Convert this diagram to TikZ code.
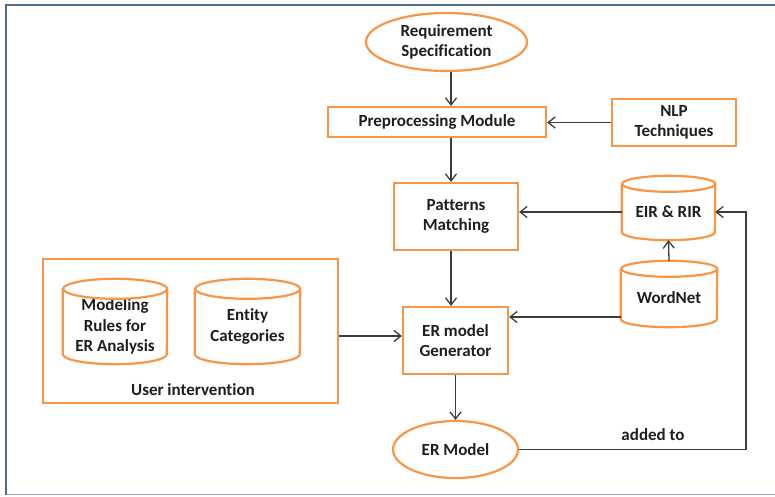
\documentclass[tikz,border=0pt]{standalone}
\usepackage{fontspec}
\setmainfont{Carlito}[Ligatures=NoCommon]
\usepackage{xcolor}
\usepackage{tikz}
\usetikzlibrary{shapes.geometric,arrows.meta}
\definecolor{erorange}{RGB}{247, 150, 70}
\definecolor{erframe}{RGB}{79, 108, 140}
\definecolor{erframelight}{RGB}{150, 165, 185}
\definecolor{erline}{RGB}{60, 60, 60}
\definecolor{ertext}{RGB}{30, 30, 30}

% text lowered inside a cylinder body, box size kept
\newcommand{\lowtext}[1]{\raisebox{-5.5pt}[\height][\depth]{\begin{tabular}{@{}c@{}}#1\end{tabular}}}
% cylinder outline round a node: node, x radius, y radius
\newcommand{\dbdraw}[3]{%
  \draw[dbline] ([yshift=-#3]#1.north west) -- ([yshift=#3]#1.south west)
    arc[start angle=180, end angle=360, x radius=#2, y radius=#3]
    -- ([yshift=-#3]#1.north east)
    arc[start angle=0, end angle=360, x radius=#2, y radius=#3];}

\begin{document}
\begin{tikzpicture}[x=1pt, y=-1pt,
  txt/.style={font=\bfseries\fontsize{17}{20.5}\selectfont, text=ertext, align=center, inner sep=0pt},
  box/.style={txt, rectangle, draw=erorange, line width=2.2pt},
  oval/.style={txt, ellipse, draw=erorange, line width=2.2pt},
  db/.style={txt, rectangle},
  dbline/.style={draw=erorange, line width=2.2pt},
  arr/.style={draw=erline, line width=1.3pt, -{Straight Barb[length=7pt,width=11pt]}}]
\useasboundingbox (0,0) rectangle (775,496);

% outer frame
\draw[erframelight, line width=1.2pt] (6,494.5) -- (790,494.5);
\draw[erframe, line width=2.2pt] (790,5) -- (6,5) -- (6,494.5);

% main column
\node[oval, minimum width=161pt, minimum height=58pt] (req) at (446.5,42) {Requirement\\Specification};
\node[box, minimum width=218pt, minimum height=30pt] (pre) at (437,122) {Preprocessing Module};
\node[box, minimum width=124pt, minimum height=67pt] (pm) at (456,216.5) {Patterns\\Matching};
\node[box, minimum width=105pt, minimum height=67pt] (gen) at (455.5,340.5) {ER model\\Generator};
\node[oval, minimum width=125pt, minimum height=57pt] (erm) at (455.5,449.5) {ER Model};

% right column
\node[box, minimum width=124pt, minimum height=47pt] (nlp) at (674,122.5) {NLP\\Techniques};
\node[db, minimum width=93pt, minimum height=64pt] (eir) at (668.5,208) {\lowtext{EIR \& RIR}};
\node[db, minimum width=96pt, minimum height=66pt] (wn) at (669,294) {\lowtext{WordNet}};
\dbdraw{eir}{46.5pt}{8pt}
\dbdraw{wn}{48pt}{8pt}

% user intervention
\node[box, minimum width=295pt, minimum height=144pt] (user) at (190.5,331) {};
\node[db, minimum width=104pt, minimum height=85pt] (rules) at (115,321.5) {\lowtext{Modeling\\Rules for\\ER Analysis}};
\node[db, minimum width=105pt, minimum height=85pt] (cat) at (247.5,321.5) {\lowtext{Entity\\Categories}};
\dbdraw{rules}{52pt}{10pt}
\dbdraw{cat}{52.5pt}{10pt}
\node[txt] (userlbl) at (193,390) {User intervention};

% arrows
\coordinate (axis) at (451,0);
\coordinate (back) at (746,0);
\draw[arr] (req.south -| axis) -- (pre.north -| axis);
\draw[arr] (pre.south -| axis) -- (pm.north -| axis);
\draw[arr] (pm.south -| axis) -- (gen.north -| axis);
\draw[arr] (gen.south) -- (erm.north);
\draw[arr] (nlp.west) -- (nlp.west -| pre.east);
\draw[arr] ([yshift=-4pt]eir.west) -- ([yshift=-4pt]eir.west -| pm.east);
\draw[arr] (wn.north) -- (eir.south);
\draw[arr] ([yshift=-23pt]wn.west) -- ([yshift=-23pt]wn.west -| gen.east);
\draw[arr] ([yshift=-5pt]user.east) -- ([yshift=-5pt]user.east -| gen.west);
\draw[arr] (erm.east) -- (erm.east -| back) -- ([yshift=-4pt]eir.east -| back) -- ([yshift=-4pt]eir.east);
\node[txt] (added) at (653,435) {added to};
\end{tikzpicture}
\end{document}
